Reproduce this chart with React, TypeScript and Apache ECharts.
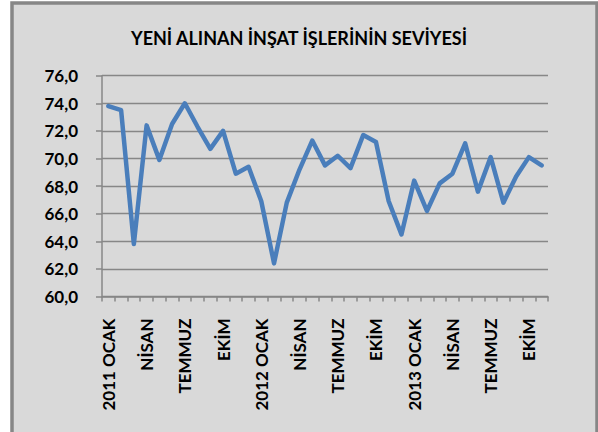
import React, { useEffect, useRef } from "react";
import * as echarts from "echarts";

const titleText = "YENİ ALINAN İNŞAT İŞLERİNİN SEVİYESİ";
const months = ["2011 OCAK", "ŞUBAT", "MART", "NİSAN", "MAYIS", "HAZİRAN", "TEMMUZ", "AĞUSTOS", "EYLÜL", "EKİM", "KASIM", "ARALIK",
  "2012 OCAK", "ŞUBAT", "MART", "NİSAN", "MAYIS", "HAZİRAN", "TEMMUZ", "AĞUSTOS", "EYLÜL", "EKİM", "KASIM", "ARALIK",
  "2013 OCAK", "ŞUBAT", "MART", "NİSAN", "MAYIS", "HAZİRAN", "TEMMUZ", "AĞUSTOS", "EYLÜL", "EKİM", "KASIM"];
const values = [73.8, 73.5, 63.8, 72.4, 69.9, 72.5, 74.0, 72.3, 70.7, 72.0, 68.9, 69.4,
  66.9, 62.4, 66.8, 69.2, 71.3, 69.5, 70.2, 69.3, 71.7, 71.2, 66.9, 64.5,
  68.4, 66.2, 68.2, 68.9, 71.1, 67.6, 70.1, 66.8, 68.7, 70.1, 69.5];
const yMin = 60;
const yMax = 76;
const yStep = 2;

const FONT = "Lato";

export default function App() {
  const ref = useRef<HTMLDivElement>(null);
  useEffect(() => {
    if (!ref.current) return;
    const chart = echarts.init(ref.current, null, { renderer: "svg" });
    chart.setOption({
      animation: false,
      backgroundColor: "#ffffff",
      graphic: [
        {
          type: "rect",
          z: -10,
          silent: true,
          shape: { x: 12, y: 3, width: 585, height: 470 },
          style: { fill: "#d9d9d9", stroke: "#878787", lineWidth: 3.5 },
        },
      ],
      title: {
        text: titleText,
        left: "center",
        top: 24,
        textStyle: { fontFamily: FONT, fontWeight: "bold", fontSize: 18, color: "#000000" },
      },
      grid: { left: 102, right: 50, top: 75.7, bottom: 135.5 },
      xAxis: {
        type: "category",
        data: months,
        boundaryGap: true,
        axisLine: { show: true, lineStyle: { color: "#878787", width: 1.5 } },
        axisTick: { show: true, interval: 0, length: 5, lineStyle: { color: "#878787", width: 1.5 } },
        axisLabel: {
          interval: 2,
          rotate: 90,
          margin: 22,
          color: "#000000",
          fontFamily: FONT,
          fontWeight: "bold",
          fontSize: 17,
        },
        splitLine: { show: false },
      },
      yAxis: {
        type: "value",
        min: yMin,
        max: yMax,
        interval: yStep,
        axisLine: { show: true, lineStyle: { color: "#878787", width: 1.5 } },
        axisTick: { show: true, length: 6, lineStyle: { color: "#878787", width: 1.5 } },
        axisLabel: {
          margin: 24,
          color: "#000000",
          fontFamily: FONT,
          fontWeight: "bold",
          fontSize: 17,
          formatter: (v: number) => v.toFixed(1).replace(".", ","),
        },
        splitLine: { show: true, lineStyle: { color: "#878787", width: 1.3 } },
      },
      series: [
        {
          type: "line",
          data: values,
          symbol: "none",
          smooth: false,
          lineStyle: { color: "#4a7ebb", width: 4.5, join: "round", cap: "round" },
        },
      ],
    });
    return () => chart.dispose();
  }, []);
  return (
    <div
      ref={ref}
      style={{ position: "fixed", left: 0, top: 0, width: 598, height: 432 }}
    />
  );
}
